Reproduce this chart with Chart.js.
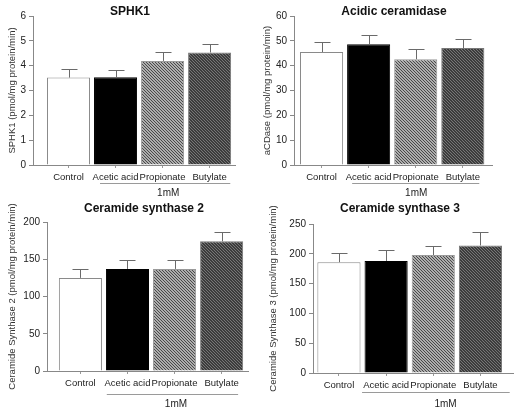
<!DOCTYPE html>
<html>
<head>
<meta charset="utf-8">
<script src="https://cdn.jsdelivr.net/npm/chart.js@4"></script>
<style>
  body { margin: 0; background: #fff; }
  #wrap { position: relative; width: 525px; height: 414px; overflow: hidden; }
  canvas { position: absolute; }
</style>
</head>
<body>
<div id="wrap"></div>
<script>
// groups on the x axis
const groups = ['Control', 'Acetic acid', 'Propionate', 'Butylate'];

// SPHK1 activity
const sphk1Mean = [3.52, 3.53, 4.19, 4.53];
const sphk1Err = [0.33, 0.28, 0.35, 0.33];

// acidic ceramidase
const acdMean = [45.5, 48.6, 42.6, 47.1];
const acdErr = [3.9, 3.7, 4.0, 3.8];

// ceramide synthase 2
const cers2Mean = [125, 137, 137, 174];
const cers2Err = [12, 12, 12, 13];

// ceramide synthase 3
const cers3Mean = [186, 188, 198, 214];
const cers3Err = [16, 18, 15, 22];

const treatLabel = '1mM';

// hatch fills
function makePattern(bg, fg) {
  const c = document.createElement('canvas');
  c.width = 3; c.height = 3;
  const g = c.getContext('2d');
  g.fillStyle = bg;
  g.fillRect(0, 0, 3, 3);
  g.fillStyle = fg;
  for (let i = 0; i < 3; i++) g.fillRect(i, i, 1, 1);
  return g.createPattern(c, 'repeat');
}
const fills = ['#ffffff', '#000000', makePattern('#aeaeae', '#4a4a4a'), makePattern('#3c3c3c', '#767676')];
const borders = ['#8a8a8a', '#000000', '#9a9a9a', '#777777'];

const FONT = '"Liberation Sans", Arial, sans-serif';
const FS = 9.5;

const panels = [
  { title: 'SPHK1', yTitle: 'SPHK1 (pmol/mg protein/min)', mean: sphk1Mean, err: sphk1Err,
    box: [0, 0, 262, 200], L: 33, R: 235, top: 16, bottom: 165, xmin: -0.755, xmax: 3.54,
    ymax: 6, step: 1, tx: 130, ty: 12, yPad: 7, lineOff: 18, from: 0.67, to: 3.44, mmX: 2.12, mmOff: 28 },
  { title: 'Acidic ceramidase', yTitle: 'aCDase (pmol/mg protein/min)', mean: acdMean, err: acdErr,
    box: [262, 0, 263, 200], L: 294, R: 492, top: 16, bottom: 165, xmin: -0.585, xmax: 3.62,
    ymax: 60, step: 10, tx: 394, ty: 12, yPad: 0, lineOff: 18, from: 0.65, to: 3.35, mmX: 2.01, mmOff: 28 },
  { title: 'Ceramide synthase 2', yTitle: 'Ceramide Synthase 2 (pmol/mg protein/min)', mean: cers2Mean, err: cers2Err,
    box: [0, 198, 262, 216], L: 47, R: 248, top: 222, bottom: 371, xmin: -0.71, xmax: 3.56,
    ymax: 200, step: 50, tx: 144, ty: 209, yPad: 7, lineOff: 23, from: 0.56, to: 3.35, mmX: 2.03, mmOff: 33 },
  { title: 'Ceramide synthase 3', yTitle: 'Ceramide Synthase 3 (pmol/mg protein/min)', mean: cers3Mean, err: cers3Err,
    box: [262, 198, 263, 216], L: 313, R: 513, top: 224, bottom: 373, xmin: -0.55, xmax: 3.69,
    ymax: 250, step: 50, tx: 400, ty: 209, yPad: 6, lineOff: 19, from: 0.49, to: 3.62, mmX: 2.26, mmOff: 31 }
];

const extras = {
  id: 'extras',
  afterDatasetsDraw(chart, args, p) {
    const ctx = chart.ctx, xs = chart.scales.x, ys = chart.scales.y;
    const [x0, y0] = p.box;
    ctx.save();
    // error bars (upper only)
    ctx.strokeStyle = '#6a6a6a';
    ctx.lineWidth = 1;
    p.mean.forEach((m, i) => {
      const x = Math.round(xs.getPixelForValue(i)) + 0.5;
      const yb = ys.getPixelForValue(m);
      const yt = Math.round(ys.getPixelForValue(m + p.err[i])) + 0.5;
      ctx.beginPath();
      ctx.moveTo(x, yb); ctx.lineTo(x, yt);
      ctx.moveTo(x - 8, yt); ctx.lineTo(x + 8, yt);
      ctx.stroke();
    });
    // title
    ctx.fillStyle = '#111';
    ctx.font = 'bold 12px ' + FONT;
    ctx.textAlign = 'center';
    ctx.textBaseline = 'middle';
    ctx.fillText(p.title, p.tx - x0, p.ty - y0);
    // treatment bracket
    const ly = Math.round(chart.chartArea.bottom + p.lineOff) + 0.5;
    ctx.strokeStyle = '#9a9a9a';
    ctx.beginPath();
    ctx.moveTo(xs.getPixelForValue(p.from), ly);
    ctx.lineTo(xs.getPixelForValue(p.to), ly);
    ctx.stroke();
    ctx.fillStyle = '#222';
    ctx.font = '10px ' + FONT;
    ctx.fillText(treatLabel, xs.getPixelForValue(p.mmX), chart.chartArea.bottom + p.mmOff);
    ctx.restore();
  }
};

const wrap = document.getElementById('wrap');
panels.forEach(p => {
  const [x0, y0, w, h] = p.box;
  const cv = document.createElement('canvas');
  cv.width = w; cv.height = h;
  cv.style.left = x0 + 'px'; cv.style.top = y0 + 'px';
  wrap.appendChild(cv);
  new Chart(cv, {
    type: 'bar',
    data: {
      datasets: [{
        data: p.mean.map((v, i) => ({ x: i, y: v })),
        backgroundColor: fills,
        borderColor: borders,
        borderWidth: 1,
        barPercentage: 0.915,
        categoryPercentage: 1
      }]
    },
    options: {
      responsive: false,
      animation: false,
      layout: { padding: { left: 0, top: p.top - y0, right: x0 + w - p.R, bottom: h - (p.bottom - y0) - 30 } },
      plugins: { legend: { display: false }, tooltip: { enabled: false }, extras: p },
      scales: {
        x: {
          type: 'linear', min: p.xmin, max: p.xmax, offset: false,
          afterBuildTicks: s => { s.ticks = groups.map((g, i) => ({ value: i })); },
          afterFit: s => { s.height = 30; },
          ticks: { autoSkip: false, maxRotation: 0, padding: 4, color: '#222',
            font: { family: FONT, size: FS }, callback: v => groups[v] },
          grid: { drawOnChartArea: false, offset: false, tickLength: 3, color: '#999' },
          border: { color: '#888' }
        },
        y: {
          min: 0, max: p.ymax,
          afterFit: s => { s.width = p.L - x0; },
          ticks: { stepSize: p.step, padding: 3, color: '#222', font: { family: FONT, size: 10 } },
          grid: { drawOnChartArea: false, tickLength: 4, color: '#888' },
          border: { color: '#888' },
          title: { display: true, text: p.yTitle, color: '#333', padding: { top: p.yPad, bottom: 0 },
            font: { family: FONT, size: FS } }
        }
      }
    },
    plugins: [extras]
  });
});
</script>
</body>
</html>
